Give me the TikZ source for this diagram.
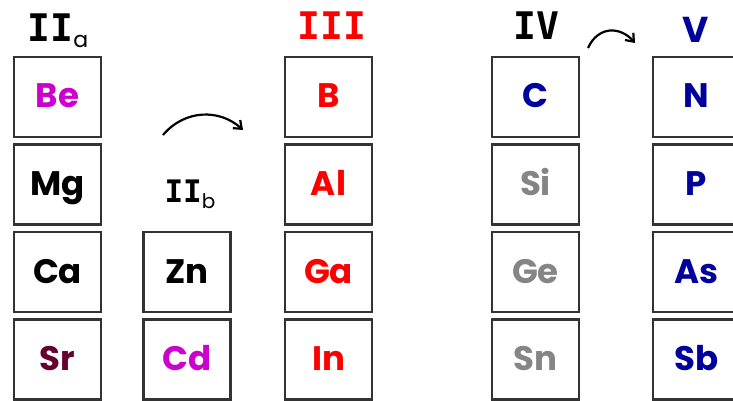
\documentclass[tikz,border=0pt]{standalone}
\usepackage{fontspec}
\usetikzlibrary{arrows.meta}
\newfontfamily\elfont{Poppins}
\newfontfamily\grpfont{DejaVu Sans Mono}
\definecolor{elmagenta}{HTML}{CC00CC}
\definecolor{elmaroon}{HTML}{660033}
\definecolor{elred}{HTML}{FF0000}
\definecolor{elgray}{HTML}{858585}
\definecolor{elblue}{HTML}{00009C}
\definecolor{boxline}{HTML}{333333}
\begin{document}
\begin{tikzpicture}[x=1pt,y=-1pt,
  cell/.style={draw=boxline,line width=2.4pt,minimum width=87pt,minimum height=80pt,
    inner sep=0pt,outer sep=0pt},
  sym/.style={anchor=base,inner sep=0pt,font=\elfont\bfseries\fontsize{34}{34}\selectfont},
  grp/.style={anchor=base,inner sep=0pt,font=\grpfont\bfseries\fontsize{38}{38}\selectfont},
  curvearrow/.style={line width=2.2pt,-{Straight Barb[length=7pt,width=11pt,line width=2.2pt]}}]
\useasboundingbox (0,0) rectangle (733,401);

% group labels
\node[grp] (lIIa) at (58,42) {II\raisebox{-6pt}{\fontsize{22}{22}\selectfont\elfont\mdseries a}};
\node[grp,font=\grpfont\bfseries\fontsize{31}{31}\selectfont] (lIIb) at (190,202) {II\raisebox{-6pt}{\fontsize{20}{20}\selectfont\elfont\mdseries b}};
\node[grp,text=elred] (lIII) at (332,40) {III};
\node[grp] (lIV) at (536,40) {IV};
\node[grp,font=\elfont\bfseries\fontsize{36}{36}\selectfont,text=elblue] (lV) at (696,43) {V};

% group IIa
\foreach \n/\y in {Be/97,Mg/184.5,Ca/272,Sr/359.5}{\node[cell] (c\n) at (57.5,\y) {};}
\node[sym,text=elmagenta] at ([yshift=-11pt]cBe.center) {Be};
\node[sym,text=black] at ([yshift=-11pt]cMg.center) {Mg};
\node[sym,text=black] at ([yshift=-11pt]cCa.center) {Ca};
\node[sym,text=elmaroon] at ([yshift=-11pt]cSr.center) {Sr};

% group IIb
\foreach \n/\y in {Zn/272,Cd/359.5}{\node[cell] (c\n) at (187,\y) {};}
\node[sym,text=black] at ([yshift=-11pt]cZn.center) {Zn};
\node[sym,text=elmagenta] at ([yshift=-11pt]cCd.center) {Cd};

% group III
\foreach \n/\y in {B/97,Al/184.5,Ga/272,In/359.5}{\node[cell] (c\n) at (328.5,\y) {};}
\foreach \n in {B,Al,Ga,In}{\node[sym,text=elred] at ([yshift=-11pt]c\n.center) {\n};}

% group IV
\foreach \n/\y in {C/97,Si/184.5,Ge/272,Sn/359.5}{\node[cell] (c\n) at (535.5,\y) {};}
\node[sym,text=elblue] at ([yshift=-11pt]cC.center) {C};
\foreach \n in {Si,Ge,Sn}{\node[sym,text=elgray] at ([yshift=-11pt]c\n.center) {\n};}

% group V
\foreach \n/\y in {N/97,P/184.5,As/272,Sb/359.5}{\node[cell] (c\n) at (696.5,\y) {};}
\foreach \n in {N,P,As,Sb}{\node[sym,text=elblue] at ([yshift=-11pt]c\n.center) {\n};}

% curved arrows
\coordinate (a1s) at (163,135);
\coordinate (a1e) at (243,130);
\coordinate (a2s) at (588,48);
\coordinate (a2e) at (635,43);
\draw[curvearrow] (a1s) .. controls (185,109) and (220,109) .. (a1e);
\draw[curvearrow] (a2s) .. controls (598,26) and (620,26) .. (a2e);
\end{tikzpicture}
\end{document}
